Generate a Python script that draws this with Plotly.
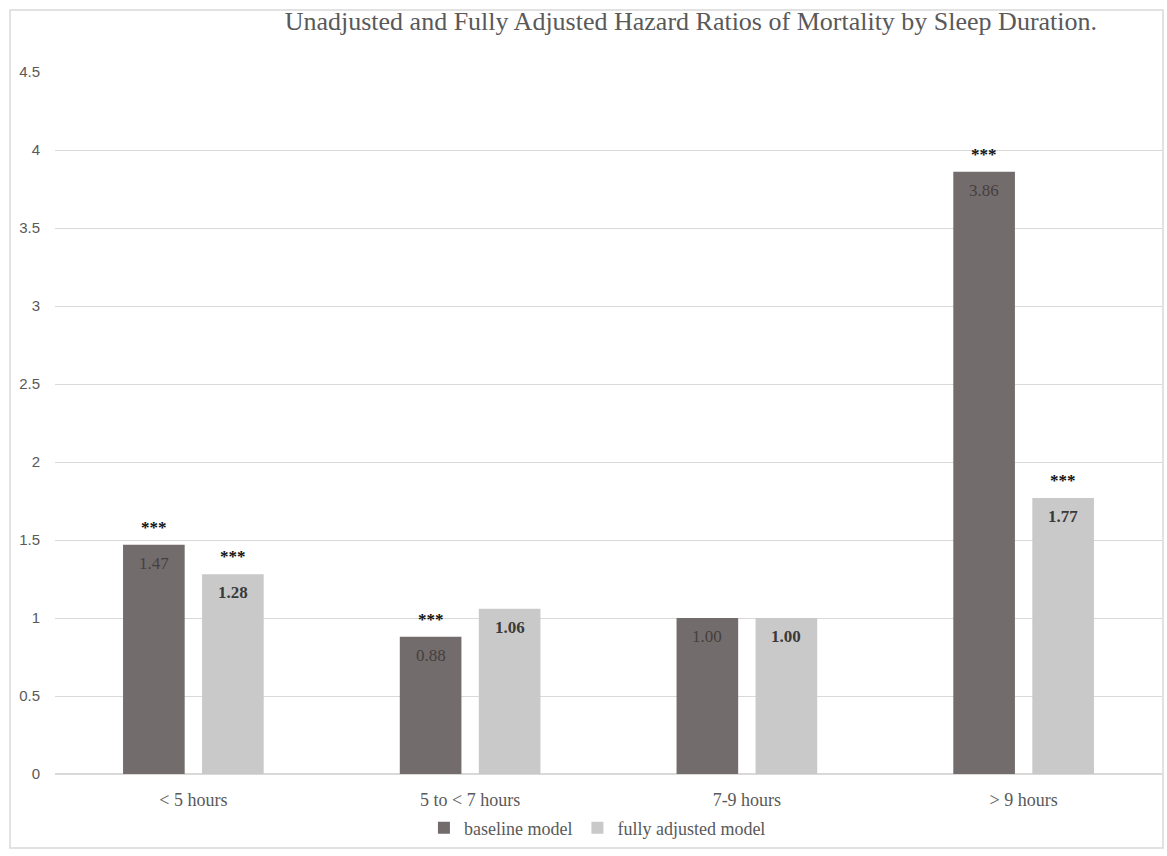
import plotly.graph_objects as go

categories = ["< 5 hours", "5 to < 7 hours", "7-9 hours", "> 9 hours"]
baseline = [1.47, 0.88, 1.00, 3.86]
adjusted = [1.28, 1.06, 1.00, 1.77]
sig_base = ["***", "***", "", "***"]
sig_adj = ["***", "", "", "***"]
series_names = ["baseline model", "fully adjusted model"]
title_text = "Unadjusted and Fully Adjusted Hazard Ratios of Mortality by Sleep Duration."
y_ticks = [0, 0.5, 1, 1.5, 2, 2.5, 3, 3.5, 4, 4.5]
y_ticktext = ["0", "0.5", "1", "1.5", "2", "2.5", "3", "3.5", "4", "4.5"]

DARK = "#736c6c"
LIGHT = "#c9c9c9"
SERIF = "Liberation Serif, Times New Roman, serif"
SHIFT = 39.5

fig = go.Figure()
fig.add_trace(go.Bar(x=categories, y=baseline, name=series_names[0],
                     marker=dict(color=DARK, line=dict(width=0))))
fig.add_trace(go.Bar(x=categories, y=adjusted, name=series_names[1],
                     marker=dict(color=LIGHT, line=dict(width=0))))

annotations = []
for vals, sigs, xs, bold, col in ((baseline, sig_base, -SHIFT, False, "#463f3f"),
                                  (adjusted, sig_adj, SHIFT, True, "#3a3a3a")):
    for cat, v, s in zip(categories, vals, sigs):
        lab = f"{v:.2f}"
        if bold:
            lab = "<b>" + lab + "</b>"
        annotations.append(dict(x=cat, y=v, xref="x", yref="y", text=lab,
                                showarrow=False, xshift=xs, yshift=-7, yanchor="top",
                                font=dict(family=SERIF, size=17, color=col)))
        if s:
            annotations.append(dict(x=cat, y=v, xref="x", yref="y", text="<b>" + s + "</b>",
                                    showarrow=False, xshift=xs, yshift=6, yanchor="bottom",
                                    font=dict(family=SERIF, size=17, color="#111111")))

fig.update_layout(
    width=1167, height=856,
    margin=dict(l=55, r=5, t=72, b=82),
    paper_bgcolor="white", plot_bgcolor="white",
    barmode="group", bargap=0.429, bargroupgap=0.22,
    title=dict(text=title_text, x=0.592, xref="container", xanchor="center",
               y=1 - 21 / 856, yref="container", yanchor="middle",
               font=dict(family=SERIF, size=26, color="#595959")),
    legend=dict(orientation="h", x=0.49, xanchor="center", y=-0.077, yanchor="middle",
                font=dict(family=SERIF, size=18, color="#595959"),
                itemwidth=30, tracegroupgap=0),
    annotations=annotations,
    shapes=[dict(type="rect", xref="paper", yref="paper",
                 x0=(10 - 55) / 1107, x1=(1163 - 55) / 1107,
                 y0=(774 - 848) / 702, y1=(774 - 10) / 702,
                 line=dict(color="#d9d9d9", width=1.5), fillcolor="rgba(0,0,0,0)", layer="below")],
    xaxis=dict(showgrid=False, showline=False, ticks="outside", ticklen=9,
               tickcolor="rgba(0,0,0,0)",
               tickfont=dict(family=SERIF, size=18, color="#595959")),
    yaxis=dict(range=[0, 4.5], tickvals=y_ticks, ticktext=y_ticktext,
               showgrid=True, gridcolor="#d9d9d9", gridwidth=1.3,
               zeroline=True, zerolinecolor="#d9d9d9", zerolinewidth=1.5,
               showline=False, ticks="outside", ticklen=11, tickcolor="rgba(0,0,0,0)",
               tickfont=dict(family="Liberation Sans, Arial, sans-serif", size=15, color="#595959")),
)

fig.write_html("out.html")
